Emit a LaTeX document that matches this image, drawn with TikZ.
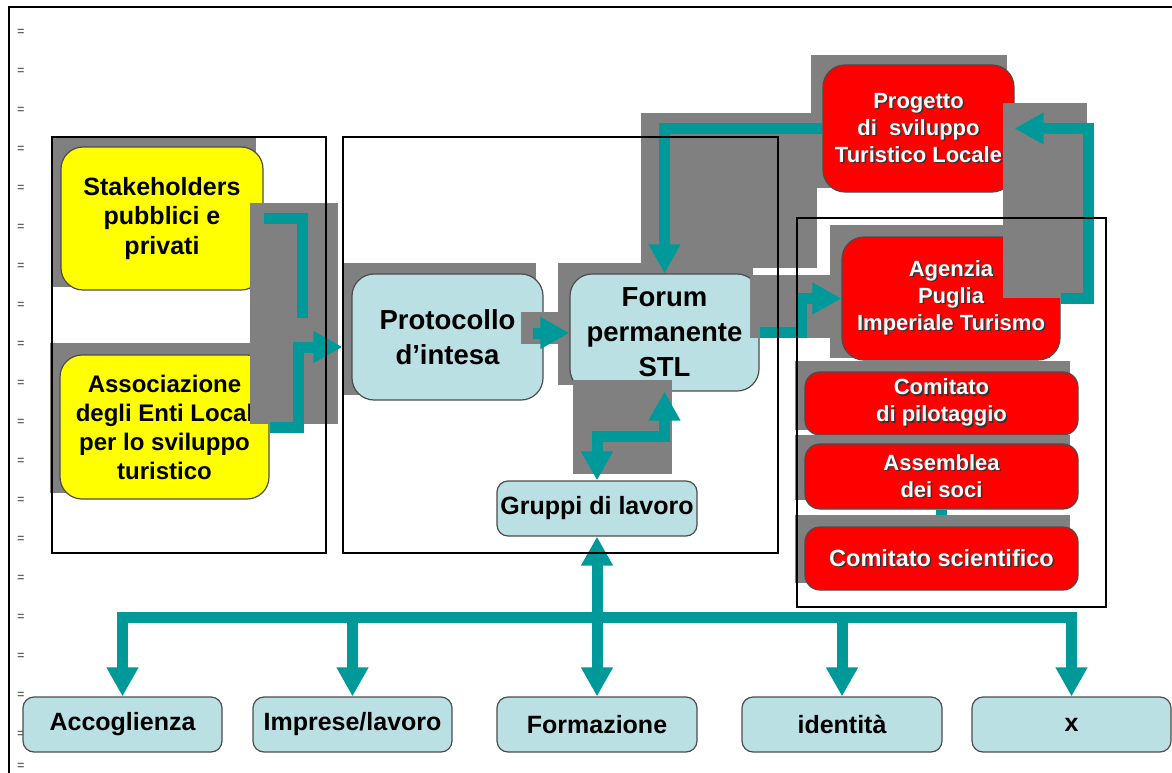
\documentclass[tikz,border=0pt]{standalone}
\usepackage{fontspec}
\setmainfont{Liberation Sans}
\usetikzlibrary{arrows.meta}

\definecolor{paleblue}{RGB}{187,224,228}
\definecolor{flowteal}{RGB}{0,153,153}
\definecolor{blotgray}{RGB}{128,128,128}
\definecolor{boxyellow}{RGB}{255,255,0}
\definecolor{boxred}{RGB}{255,0,0}

\newcommand{\fs}[2]{\fontsize{#1}{#2}\selectfont\bfseries}
\newcommand{\wsh}[1]{\rlap{\kern1.5pt\raisebox{-1.5pt}{\color{black!80}#1}}#1}

\tikzset{
  basebox/.style={draw=black!70, line width=1.2pt, rounded corners=22pt, align=center, inner sep=0pt},
  yellowbox/.style={basebox, fill=boxyellow, font=\fs{25}{29.5}},
  bluebox/.style={basebox, fill=paleblue, font=\fs{27.5}{35}},
  tabbox/.style={basebox, fill=paleblue, rounded corners=11pt, font=\fs{25}{28}, minimum width=200pt, minimum height=55pt},
  redbox/.style={basebox, fill=boxred, text=white, font=\fs{22}{27}},
  slimred/.style={redbox, rounded corners=15pt, minimum width=273pt},
  blot/.style={fill=blotgray},
  wire/.style={draw=flowteal, line width=11pt},
  flow/.style={wire, -{Triangle[length=29pt,width=30pt]}},
  twoway/.style={wire, {Triangle[length=29pt,width=30pt]}-{Triangle[length=29pt,width=30pt]}},
  groupframe/.style={draw=black, line width=1.3pt},
  margmark/.style={text=black!60, font=\fontsize{12}{12}\selectfont\bfseries, inner sep=0pt},
}

\begin{document}
\begin{tikzpicture}[x=1pt,y=-1pt]
\useasboundingbox (0,0) rectangle (1172,773);

% left margin marks and page edge
\foreach \i in {0,...,18}
  \node[margmark] at (21,32+39*\i) {=};
\node[margmark] at (21,766) {=};
\draw[line width=2.5pt] (9,773) -- (9,7) -- (1172,7);

% promoters
\fill[blot] (52,137) rectangle (256,287);
\node[yellowbox, minimum width=202pt, minimum height=143pt] (stake) at (162,218.5) {Stakeholders\\pubblici e\\privati};
\fill[blot] (50,343) rectangle (260,493);
\node[yellowbox, minimum width=209pt, minimum height=144pt, font=\fs{24}{29}] (assoc) at (164.5,427) {Associazione\\degli Enti Local\\per lo sviluppo\\turistico};

% protocol and forum
\fill[blot] (343,263) rectangle (536,395);
\node[bluebox, minimum width=191pt, minimum height=126pt] (proto) at (447.5,337) {Protocollo\\d’intesa};
\fill[blot] (558,263) rectangle (753,385);
\node[bluebox, minimum width=189pt, minimum height=117pt] (forum) at (664.5,332.5) {Forum\\permanente\\STL};
\node[tabbox] (gruppi) at (597,508.5) {Gruppi di lavoro};

% agency side
\fill[blot] (811,55) rectangle (1007,188);
\node[redbox, minimum width=191pt, minimum height=127pt] (progetto) at (918.5,128.5) {\wsh{Progetto}\\\wsh{di~ sviluppo}\\\wsh{Turistico Locale}};
\fill[blot] (830,225) rectangle (1050,358);
\node[redbox, minimum width=218pt, minimum height=123pt] (agenzia) at (951,298.5) {\wsh{Agenzia}\\\wsh{Puglia}\\\wsh{Imperiale Turismo}};
\fill[blot] (795,361) rectangle (1070,430);
\node[slimred, minimum height=63pt] (pilot) at (941.5,403.5) {\wsh{Comitato}\\\wsh{di pilotaggio}};
\fill[blot] (795,435) rectangle (1070,500);
\node[slimred, minimum height=65pt] (assemblea) at (941.5,476.5) {\wsh{Assemblea}\\\wsh{dei soci}};
\draw[wire] (assemblea.south) -- ++(0,18);
\fill[blot] (795,515) rectangle (1070,583);
\node[slimred, minimum height=63pt, font=\fs{23.5}{27}] (scient) at (941.5,558.5) {\wsh{Comitato scientifico}};

% thematic tables
\node[tabbox, minimum width=199pt] (acc) at (122.5,724.5) {Accoglienza};
\node[tabbox, minimum width=199pt] (impr) at (352.5,724.5) {Imprese/lavoro};
\node[tabbox] (form) at (597,724.5) {Formazione};
\node[tabbox] (ident) at (842,724.5) {identità};
\node[tabbox, minimum width=199pt] (xbox) at (1071.5,724.5) {x};

% connector shadows
\fill[blot] (250,203) rectangle (338,424);
\fill[blot] (521,312) rectangle (560,344);
\fill[blot] (573,380) rectangle (672,474);
\fill[blot] (641,113) rectangle (817,268);
\fill[blot] (750,275) rectangle (830,338);
\fill[blot] (1003,103) rectangle (1087,298);

% connectors
\coordinate (stakeend) at (302,318);
\draw[wire] (stake.east) -- (302,218.5) -- (stakeend);
\draw[flow] (assoc.east) -- (298,427) |- ([xshift=-9pt,yshift=-10pt]proto.west);
\coordinate (pf) at ([yshift=4pt]proto.east);
\draw[flow] ([xshift=-11pt]pf) -- (pf -| forum.west);
\draw[twoway] (gruppi.north) -- ++(0,-44) -| (forum.south);
\draw[flow] (progetto.west) -| (forum.north);
\draw[flow] (forum.east) -- (801,332.5) |- (agenzia.west);
\draw[flow] (agenzia.east) -- (1088,298.5) |- (progetto.east);

\coordinate (bar) at (0,617.5);
\draw[twoway] (gruppi.south) -- (form.north);
\draw[flow] (form.north |- bar) -| (acc.north);
\draw[flow] (form.north |- bar) -| (xbox.north);
\draw[flow] (impr.north |- bar) -- (impr.north);
\draw[flow] (ident.north |- bar) -- (ident.north);

% group frames
\draw[groupframe] (52,137) rectangle (326,553);
\draw[groupframe] (343,137) rectangle (778,553);
\draw[groupframe] (797,218) rectangle (1106,607);
\end{tikzpicture}
\end{document}
